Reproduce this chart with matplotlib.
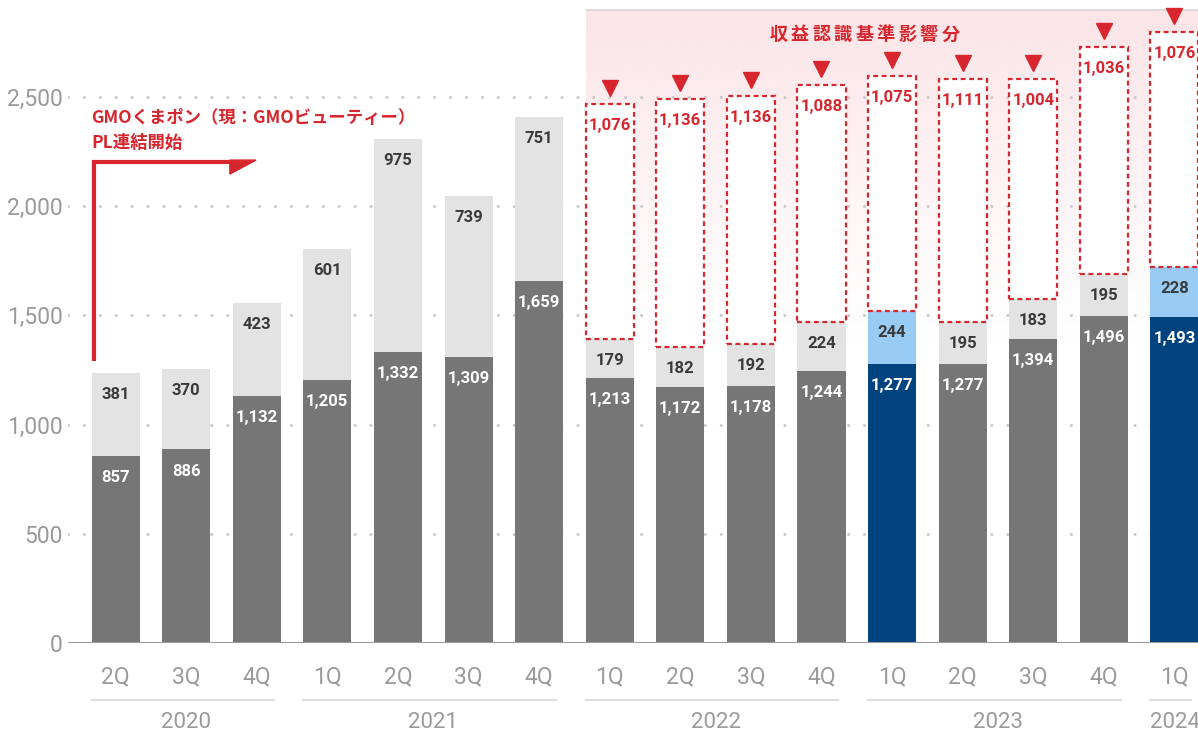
import matplotlib
matplotlib.use("Agg")
import matplotlib.pyplot as plt
import matplotlib.transforms as mtransforms
import numpy as np
from matplotlib.patches import Polygon

# ── Data ──────────────────────────────────────────────────────────────────────
quarters = ["2Q", "3Q", "4Q", "1Q", "2Q", "3Q", "4Q", "1Q", "2Q", "3Q", "4Q",
            "1Q", "2Q", "3Q", "4Q", "1Q"]
years = ["2020", "2021", "2022", "2023", "2024"]
year_counts = [3, 4, 4, 4, 1]
base = [857, 886, 1132, 1205, 1332, 1309, 1659, 1213, 1172, 1178, 1244,
        1277, 1277, 1394, 1496, 1493]
upper = [381, 370, 423, 601, 975, 739, 751, 179, 182, 192, 224,
         244, 195, 183, 195, 228]
impact = [None] * 7 + [1076, 1136, 1136, 1088, 1075, 1111, 1004, 1036, 1076]
highlight = [11, 15]

# ── Colors ────────────────────────────────────────────────────────────────────
RED = "#d7262e"
C_BASE = "#767676"; C_UP = "#e3e3e3"
C_NAVY = "#00437f"; C_LBLUE = "#99ccf5"
C_TICK = "#9a9a9a"
NUM = ["Roboto", "DejaVu Sans"]
CJK = ["Noto Sans CJK JP", "DejaVu Sans"]

fig = plt.figure(figsize=(11.98, 7.36), dpi=100)
ax = fig.add_axes([68 / 1198, 93 / 736, 1130 / 1198, 643 / 736])
XL, XR = -0.673, 15.333
YT = 2944
W = 0.68

x = np.arange(len(base))
base_c = [C_NAVY if i in highlight else C_BASE for i in x]
up_c = [C_LBLUE if i in highlight else C_UP for i in x]
tot = [b + u for b, u in zip(base, upper)]

# pink background for the revenue recognition area
first = next(i for i, v in enumerate(impact) if v is not None)
grad = np.ones((200, 2, 4))
grad[..., 0] = 252 / 255; grad[..., 1] = 228 / 255; grad[..., 2] = 231 / 255
grad[..., 3] = np.linspace(1, 0, 200)[:, None] ** 1.2
ax.imshow(grad, extent=[first - W / 2, XR, 1350, 2898], aspect="auto",
          zorder=0, interpolation="bilinear")
ax.plot([first - W / 2, XR], [2898, 2898], color="#d9d9d9", lw=1.2, zorder=0.6,
        clip_on=False)

# dotted gridlines
for v in range(500, 3000, 500):
    ax.axhline(v, color="#c9c9c9", lw=2.2, linestyle=(0, (0.01, 5.2)),
               dash_capstyle="round", zorder=0.5)
ax.axhline(0, color="#9a9a9a", lw=1.5, zorder=3)

# bars
ax.bar(x, base, width=W, color=base_c, zorder=2)
ax.bar(x, upper, bottom=base, width=W, color=up_c, zorder=2)

xi = [i for i, v in enumerate(impact) if v is not None]
iv = [impact[i] for i in xi]
ib = [tot[i] for i in xi]
ax.bar(xi, iv, bottom=ib, width=W, facecolor="white", edgecolor=RED,
       linestyle=(0, (2.2, 1.6)), linewidth=1.6, zorder=2)

tri = mtransforms.offset_copy(ax.transData, fig=fig, y=11.5, units="points")
ax.plot(xi, [b + v for b, v in zip(ib, iv)], "v", color=RED, ms=11,
        transform=tri, zorder=4, clip_on=False)

# value labels
def label(xv, yv, txt, color):
    ax.annotate(txt, (xv, yv), xytext=(0, -15.5), textcoords="offset points",
                ha="center", va="center", fontsize=12, fontweight="bold",
                color=color, family=NUM, zorder=5)

for i in x:
    label(i, base[i], f"{base[i]:,}", "white")
    label(i, tot[i], f"{upper[i]:,}", "#3a3a3a")
for i, b, v in zip(xi, ib, iv):
    label(i, b + v, f"{v:,}", RED)

# axes styling
ax.set_xlim(XL, XR)
ax.set_ylim(0, YT)
for s in ax.spines.values():
    s.set_visible(False)
ax.set_xticks([])
ax.set_yticks(range(0, 3000, 500))
ax.set_yticklabels([f"{v:,}" for v in range(0, 3000, 500)], family=NUM,
                   fontsize=16.5, color=C_TICK)
ax.tick_params(axis="y", length=0, pad=4)

# quarter / year labels
for i, q in enumerate(quarters):
    ax.text(i, -156, q, ha="center", va="center", fontsize=16.5, color=C_TICK,
            family=NUM, clip_on=False)
start = 0
for yr, n in zip(years, year_counts):
    end = start + n - 1
    ax.plot([start - W / 2, end + W / 2 - 0.1], [-261, -261], color="#dddddd",
            lw=1.5, clip_on=False)
    ax.text((start + end) / 2, -362, yr, ha="center", va="center",
            fontsize=16, color=C_TICK, family=NUM, clip_on=False)
    start += n

# title of the impact area (letter-spaced)
title = "収益認識基準影響分"
for k, ch in enumerate(title):
    ax.text(9.39 + k * 0.3045, 2784, ch, ha="center", va="center",
            fontsize=13, fontweight="bold", color=RED, family=CJK)

# consolidation start annotation
lx = -W / 2 + 0.03
ax.plot([lx, lx, 1.66], [1290, 2202, 2202], color=RED, lw=3,
        solid_joinstyle="miter", solid_capstyle="butt", zorder=4)
ax.add_patch(Polygon([(1.62, 2211), (1.99, 2211), (1.62, 2147)],
                     closed=True, color=RED, zorder=4))
ax.text(-W / 2, 2404, "GMOくまポン（現：GMOビューティー）", ha="left",
        va="center", fontsize=12.5, fontweight="bold", color=RED, family=CJK)
ax.text(-W / 2, 2289, "PL連結開始", ha="left", va="center", fontsize=12.5,
        fontweight="bold", color=RED, family=CJK)

fig.savefig("out.png", dpi=100)
